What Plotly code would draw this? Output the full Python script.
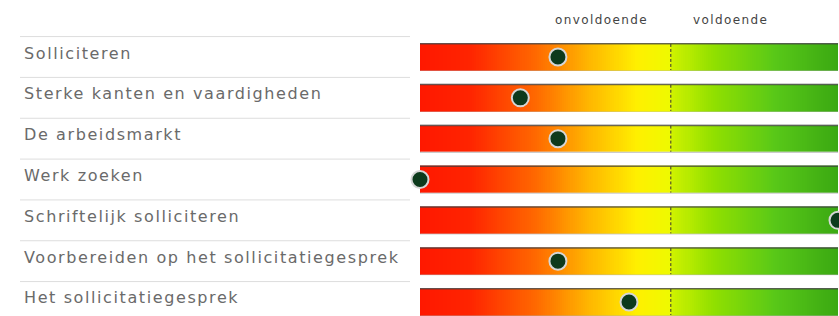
import numpy as np
import plotly.graph_objects as go

categories = [
    "Solliciteren",
    "Sterke kanten en vaardigheden",
    "De arbeidsmarkt",
    "Werk zoeken",
    "Schriftelijk solliciteren",
    "Voorbereiden op het sollicitatiegesprek",
    "Het sollicitatiegesprek",
]
scores = [33, 24, 33, 0, 100, 33, 50]
threshold = 60
header_labels = ["onvoldoende", "voldoende"]
header_pos = [43.5, 74.2]

W, H = 839, 316
n = len(categories)
rows = list(range(n))

# gradient bars (heatmap)
xs = np.arange(0.25, 100, 0.5)
z = [list(xs) for _ in rows]
colorscale = [
    [0.0, "#ff1800"],
    [0.12, "#ff2400"],
    [0.28, "#ff6a00"],
    [0.40, "#ffb400"],
    [0.52, "#fff000"],
    [0.598, "#eefa00"],
    [0.602, "#cff200"],
    [0.70, "#92e000"],
    [0.85, "#58c818"],
    [1.0, "#3aa812"],
]

fig = go.Figure()
fig.add_trace(go.Heatmap(
    x=xs, y=rows, z=z, colorscale=colorscale, zmin=0, zmax=100,
    showscale=False, ygap=14, hoverinfo="skip",
))

# marker dots
fig.add_trace(go.Scatter(
    x=scores, y=rows, mode="markers",
    marker=dict(size=17, color="#0d3a1c", line=dict(color="#d6d6d6", width=2)),
    cliponaxis=False, hoverinfo="skip",
))

shapes = []
annotations = []
for i, cat in enumerate(categories):
    shapes.append(dict(type="rect", xref="x", yref="y", x0=0, x1=100,
                       y0=i - 0.33, y1=i + 0.33,
                       line=dict(color="rgba(70,70,70,0.45)", width=1), layer="below"))
    shapes.append(dict(type="line", xref="x", yref="y", x0=0, x1=100,
                       y0=i - 0.325, y1=i - 0.325,
                       line=dict(color="rgba(60,60,60,0.7)", width=1.5), layer="above"))
    shapes.append(dict(type="line", xref="x", yref="y", x0=threshold, x1=threshold,
                       y0=i - 0.32, y1=i + 0.32,
                       line=dict(color="#333333", width=1, dash="3px,2px"), layer="above"))
    shapes.append(dict(type="line", xref="paper", yref="y", x0=20 / W, x1=410 / W,
                       y0=i - 0.5, y1=i - 0.5,
                       line=dict(color="#dddddd", width=1)))
    annotations.append(dict(text='<span style="letter-spacing:1.6px">' + cat + '</span>',
                            xref="paper", yref="y", x=22 / W, y=i,
                            xanchor="left", yanchor="middle", yshift=4, showarrow=False,
                            font=dict(family="DejaVu Sans", size=16, color="#6a6a6a")))

for lab, pos in zip(header_labels, header_pos):
    annotations.append(dict(text='<span style="letter-spacing:1.4px">' + lab + '</span>',
                            xref="x", yref="y", x=pos, y=-0.906,
                            xanchor="center", yanchor="middle", showarrow=False,
                            font=dict(family="DejaVu Sans", size=12, color="#444444")))

fig.update_layout(
    width=W, height=H,
    margin=dict(l=0, r=0, t=0, b=0),
    paper_bgcolor="white", plot_bgcolor="white",
    showlegend=False,
    xaxis=dict(domain=[420 / W, 838 / W], range=[0, 100], visible=False, fixedrange=True),
    yaxis=dict(range=[6.343, -1.396], visible=False, fixedrange=True),
    shapes=shapes, annotations=annotations,
)

fig.write_html("out.html", config={"displayModeBar": False},
               post_script="document.body.style.margin='0';document.body.style.overflow='hidden';")
